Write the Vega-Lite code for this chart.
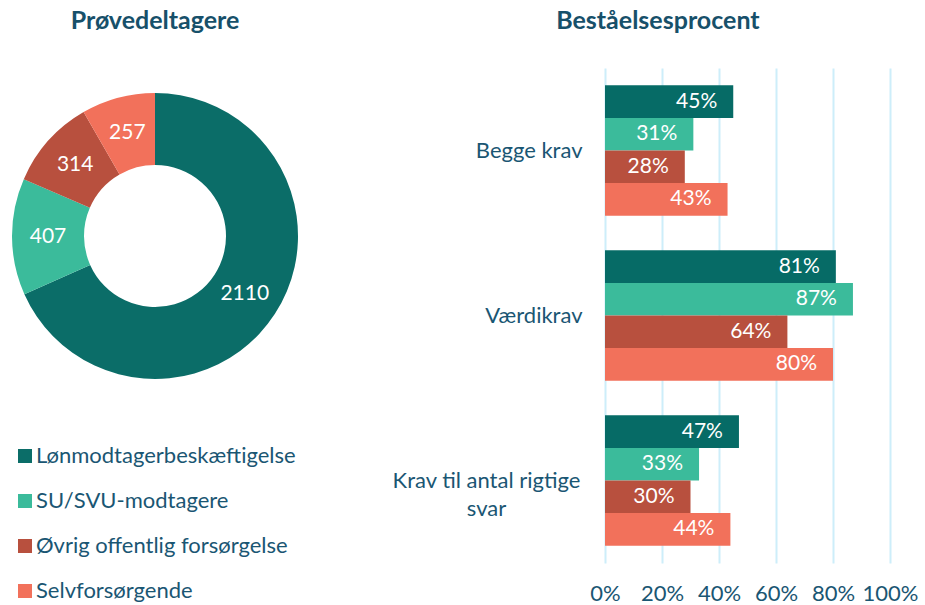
{
  "$schema": "https://vega.github.io/schema/vega-lite/v6.json",
  "background": "white",
  "padding": {"left": 0, "top": 9, "right": 5, "bottom": 0},
  "bounds": "flush",
  "spacing": 295,
  "config": {
    "font": "Lato",
    "view": {"stroke": null},
    "title": {"fontSize": 25, "fontWeight": "bold", "color": "#17506a", "anchor": "middle", "offset": 34}
  },
  "datasets": {
    "donut": [
      {"kategori": "Lønmodtagerbeskæftigelse", "n": 2110, "idx": 1},
      {"kategori": "SU/SVU-modtagere", "n": 407, "idx": 2},
      {"kategori": "Øvrig offentlig forsørgelse", "n": 314, "idx": 3},
      {"kategori": "Selvforsørgende", "n": 257, "idx": 4}
    ],
    "bars": [
      {"krav": "Begge krav", "gruppe": "Lønmodtagerbeskæftigelse", "pct": 0.45},
      {"krav": "Begge krav", "gruppe": "SU/SVU-modtagere", "pct": 0.31},
      {"krav": "Begge krav", "gruppe": "Øvrig offentlig forsørgelse", "pct": 0.28},
      {"krav": "Begge krav", "gruppe": "Selvforsørgende", "pct": 0.43},
      {"krav": "Værdikrav", "gruppe": "Lønmodtagerbeskæftigelse", "pct": 0.81},
      {"krav": "Værdikrav", "gruppe": "SU/SVU-modtagere", "pct": 0.87},
      {"krav": "Værdikrav", "gruppe": "Øvrig offentlig forsørgelse", "pct": 0.64},
      {"krav": "Værdikrav", "gruppe": "Selvforsørgende", "pct": 0.80},
      {"krav": "Krav til antal rigtige svar", "gruppe": "Lønmodtagerbeskæftigelse", "pct": 0.47},
      {"krav": "Krav til antal rigtige svar", "gruppe": "SU/SVU-modtagere", "pct": 0.33},
      {"krav": "Krav til antal rigtige svar", "gruppe": "Øvrig offentlig forsørgelse", "pct": 0.30},
      {"krav": "Krav til antal rigtige svar", "gruppe": "Selvforsørgende", "pct": 0.44}
    ]
  },
  "resolve": {"scale": {"color": "independent"}, "legend": {"color": "independent"}},
  "hconcat": [
    {
      "title": {"text": "Prøvedeltagere"},
      "width": 310,
      "height": 336,
      "data": {"name": "donut"},
      "encoding": {
        "theta": {"field": "n", "type": "quantitative", "stack": true},
        "order": {"field": "idx", "type": "quantitative"},
        "color": {
          "field": "kategori",
          "type": "nominal",
          "scale": {
            "domain": ["Lønmodtagerbeskæftigelse", "SU/SVU-modtagere", "Øvrig offentlig forsørgelse", "Selvforsørgende"],
            "range": ["#0b6d68", "#3bbb9b", "#b8503e", "#f2715b"]
          },
          "legend": {
            "title": null,
            "orient": "none",
            "legendX": 14,
            "legendY": 377,
            "symbolType": "square",
            "symbolSize": 196,
            "symbolStrokeWidth": 0,
            "symbolOpacity": 1,
            "labelFontSize": 22,
            "labelColor": "#1a5673",
            "labelOffset": 0,
            "labelLimit": 400,
            "rowPadding": 23
          }
        }
      },
      "layer": [
        {"mark": {"type": "arc", "outerRadius": 143, "innerRadius": 71}},
        {
          "mark": {"type": "text", "radius": 107, "fill": "white", "fontSize": 21},
          "encoding": {"text": {"field": "n", "type": "quantitative"}}
        }
      ]
    },
    {
      "title": {"text": "Beståelsesprocent", "frame": "bounds", "dx": 3},
      "width": 285,
      "height": 495,
      "data": {"name": "bars"},
      "encoding": {
        "y": {
          "field": "krav",
          "type": "nominal",
          "sort": ["Begge krav", "Værdikrav", "Krav til antal rigtige svar"],
          "scale": {"paddingInner": 0.21, "paddingOuter": 0.105},
          "axis": {
            "title": null,
            "domain": false,
            "ticks": false,
            "labelFontSize": 22,
            "labelColor": "#1a5673",
            "labelLimit": 300,
            "labelLineHeight": 28,
            "labelExpr": "datum.value == 'Krav til antal rigtige svar' ? ['Krav til antal rigtige', 'svar'] : datum.value",
            "labelAlign": {"condition": {"test": "datum.value == 'Krav til antal rigtige svar'", "value": "center"}, "value": "right"},
            "labelPadding": {"condition": {"test": "datum.value == 'Krav til antal rigtige svar'", "value": 119}, "value": 23}
          }
        },
        "yOffset": {
          "field": "gruppe",
          "type": "nominal",
          "sort": ["Lønmodtagerbeskæftigelse", "SU/SVU-modtagere", "Øvrig offentlig forsørgelse", "Selvforsørgende"]
        },
        "x": {
          "field": "pct",
          "type": "quantitative",
          "scale": {"domain": [0, 1]},
          "axis": {
            "title": null,
            "format": ".0%",
            "values": [0, 0.2, 0.4, 0.6, 0.8, 1],
            "labelOverlap": false,
            "labelFlush": false,
            "domain": false,
            "ticks": false,
            "grid": true,
            "gridColor": "#cdeefa",
            "gridWidth": 2,
            "labelFontSize": 22,
            "labelColor": "#1a5673",
            "labelPadding": 20
          }
        }
      },
      "layer": [
        {
          "mark": {"type": "bar"},
          "encoding": {
            "color": {
              "field": "gruppe",
              "type": "nominal",
              "scale": {
                "domain": ["Lønmodtagerbeskæftigelse", "SU/SVU-modtagere", "Øvrig offentlig forsørgelse", "Selvforsørgende"],
                "range": ["#066b66", "#3bbb9b", "#b8503e", "#f2715b"]
              },
              "legend": null
            }
          }
        },
        {
          "mark": {"type": "text", "align": "right", "baseline": "middle", "dx": -16, "fill": "white", "fontSize": 21},
          "encoding": {"text": {"field": "pct", "type": "quantitative", "format": ".0%"}}
        }
      ]
    }
  ]
}
